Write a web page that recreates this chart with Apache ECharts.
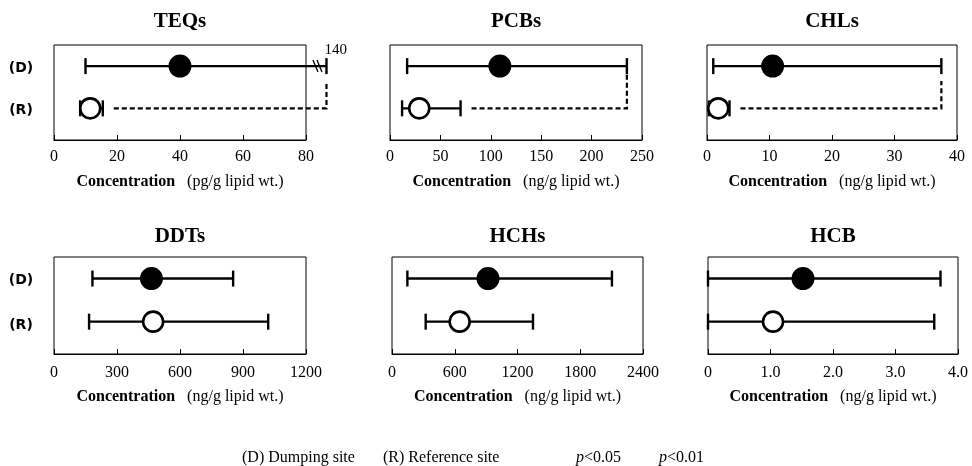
<!DOCTYPE html>
<html><head><meta charset="utf-8">
<script src="https://cdn.jsdelivr.net/npm/echarts@6/dist/echarts.min.js"></script>
<style>html,body{margin:0;padding:0;background:#fff}#c{width:972px;height:466px}</style>
</head><body><div id="c"></div>
<script>
// ---- data ----
const titles = ['TEQs', 'PCBs', 'CHLs', 'DDTs', 'HCHs', 'HCB'];
const units = ['pg/g lipid wt.', 'ng/g lipid wt.', 'ng/g lipid wt.', 'ng/g lipid wt.', 'ng/g lipid wt.', 'ng/g lipid wt.'];
const axisMax = [80, 250, 40, 1200, 2400, 4];
const axisStep = [20, 50, 10, 300, 600, 1];
// Dumping site (D): min, mean, max
const dMin = [10, 17, 1.0, 183, 147, 0];
const dMean = [40, 109, 10.5, 464, 918, 1.52];
const dMax = [140, 235, 37.5, 853, 2103, 3.72];
// Reference site (R): min, mean, max
const rMin = [8.3, 12, 0.3, 167, 322, 0];
const rMean = [11.5, 29, 1.8, 472, 647, 1.04];
const rMax = [15.5, 70, 3.6, 1020, 1348, 3.62];
// panels with a significant D vs R difference (bracket)
const sigPanels = [0, 1, 2];
// axis position where an off-scale maximum is drawn (broken axis)
const breakAt = [86.5, null, null, null, null, null];
const rowLabels = ['(D)', '(R)'];
const legendItems = ['(D) Dumping site', '(R) Reference site', 'p<0.05', 'p<0.01'];

// ---- layout ----
const Y_D = 7, Y_R = 3;
const grids = [
  {left: 54, top: 45, width: 252, height: 95},
  {left: 390, top: 45, width: 252, height: 95},
  {left: 707, top: 45, width: 250, height: 95},
  {left: 54, top: 257, width: 252, height: 97},
  {left: 392, top: 257, width: 251, height: 97},
  {left: 708, top: 257, width: 250, height: 97}
];
const bracketGap = [17, 7, 15];
const SERIF = "'Liberation Serif','Times New Roman',serif";
const LW = 2.4;

const chart = echarts.init(document.getElementById('c'), null, {renderer: 'canvas'});

const xAxes = [], yAxes = [], series = [], graphics = [];
titles.forEach((t, i) => {
  const g = grids[i];
  xAxes.push({
    gridIndex: i, type: 'value', min: 0, max: axisMax[i], interval: axisStep[i],
    axisLine: {show: true, lineStyle: {color: '#000', width: 1}},
    axisTick: {show: true, inside: true, length: 5, lineStyle: {color: '#000', width: 1}},
    splitLine: {show: false},
    axisLabel: {color: '#000', fontFamily: SERIF, fontSize: 16, margin: i < 3 ? 9 : 11,
      formatter: v => (i === 5 ? (v === 0 ? '0' : v.toFixed(1)) : String(v))},
    name: '{b|Concentration}{n|   (' + units[i] + ')}',
    nameLocation: 'middle', nameGap: i < 3 ? 34 : 35,
    nameTextStyle: {rich: {
      b: {fontFamily: SERIF, fontSize: 16, fontWeight: 'bold', color: '#000'},
      n: {fontFamily: SERIF, fontSize: 16, color: '#000'}
    }}
  });
  yAxes.push({gridIndex: i, type: 'value', min: 0, max: 9, show: false});

  // whiskers
  series.push({
    type: 'custom', xAxisIndex: i, yAxisIndex: i, z: 2, silent: true,
    data: [[dMin[i], dMax[i], Y_D], [rMin[i], rMax[i], Y_R]],
    renderItem: (params, api) => {
      const lo = api.value(0), hi = api.value(1), y = api.value(2);
      const broken = hi > axisMax[i] && breakAt[i] != null;
      const p1 = api.coord([lo, y]);
      const p2 = api.coord([broken ? breakAt[i] : hi, y]);
      const st = {stroke: '#000', lineWidth: LW};
      const ch = [
        {type: 'line', shape: {x1: p1[0], y1: p1[1], x2: p2[0], y2: p2[1]}, style: st},
        {type: 'line', shape: {x1: p1[0], y1: p1[1] - 8, x2: p1[0], y2: p1[1] + 8}, style: st},
        {type: 'line', shape: {x1: p2[0], y1: p2[1] - 8, x2: p2[0], y2: p2[1] + 8}, style: st}
      ];
      if (broken) {
        [11, 7].forEach(dx => ch.push({type: 'line',
          shape: {x1: p2[0] - dx - 2.5, y1: p2[1] - 6, x2: p2[0] - dx + 2.5, y2: p2[1] + 6},
          style: {stroke: '#000', lineWidth: 1.3}}));
        ch.push({type: 'text', x: p2[0] - 2, y: p2[1] - 16,
          style: {text: String(hi), fill: '#000', font: '15px ' + SERIF, textAlign: 'left', textVerticalAlign: 'middle'}});
      }
      return {type: 'group', children: ch};
    }
  });
  // means
  series.push({
    type: 'scatter', xAxisIndex: i, yAxisIndex: i, z: 3, silent: true,
    symbol: 'circle',
    itemStyle: {opacity: 1},
    data: [
      {value: [dMean[i], Y_D], symbolSize: 23, itemStyle: {color: '#000', borderColor: '#000', borderWidth: 0, opacity: 1}},
      {value: [rMean[i], Y_R], symbolSize: 20, itemStyle: {color: '#fff', borderColor: '#000', borderWidth: 2.6, opacity: 1}}
    ]
  });
  // significance bracket
  const si = sigPanels.indexOf(i);
  if (si >= 0) {
    const hiDraw = dMax[i] > axisMax[i] && breakAt[i] != null ? breakAt[i] : dMax[i];
    series.push({
      type: 'custom', xAxisIndex: i, yAxisIndex: i, z: 1, silent: true,
      data: [[rMax[i], hiDraw, Y_R, Y_D]],
      renderItem: (params, api) => {
        const a = api.coord([api.value(0), api.value(2)]);
        const b = api.coord([api.value(1), api.value(2)]);
        const top = api.coord([api.value(1), api.value(3)]);
        return {type: 'polyline',
          shape: {points: [[a[0] + 11, a[1]], [b[0], b[1]], [b[0], top[1] + bracketGap[si]]]},
          style: {stroke: '#000', lineWidth: 2.2, lineDash: [5, 3], fill: null}};
      }
    });
  }
  // title
  graphics.push({type: 'text', x: g.left + g.width / 2, y: i < 3 ? 22 : 237,
    style: {text: t, fill: '#000', font: 'bold 21px ' + SERIF, textAlign: 'center', textVerticalAlign: 'middle'}});
});

// row labels (left column)
[[68, 110], [280, 325]].forEach(ys => {
  ys.forEach((y, k) => graphics.push({type: 'text', x: 21, y: y,
    style: {text: rowLabels[k], fill: '#000', font: "bold 14px 'DejaVu Sans', sans-serif", textAlign: 'center', textVerticalAlign: 'middle'}}));
});

// legend
const legX = [242, 383, 576, 659];
legendItems.forEach((txt, k) => {
  const isP = txt.startsWith('p');
  graphics.push({type: 'text', x: legX[k], y: 458,
    style: isP ? {
      text: '{i|p}{n|' + txt.slice(1) + '}', textAlign: 'left', textVerticalAlign: 'middle',
      rich: {i: {fontFamily: SERIF, fontSize: 16, fontStyle: 'italic', fill: '#000', color: '#000'},
             n: {fontFamily: SERIF, fontSize: 16, fill: '#000', color: '#000'}}
    } : {text: txt, fill: '#000', font: '16px ' + SERIF, textAlign: 'left', textVerticalAlign: 'middle'}
  });
});

chart.setOption({
  animation: false,
  backgroundColor: '#fff',
  grid: grids.map(g => Object.assign({show: true, borderColor: '#000', borderWidth: 1, backgroundColor: 'transparent'}, g)),
  xAxis: xAxes,
  yAxis: yAxes,
  series: series,
  graphic: graphics
});
</script>
</body></html>
